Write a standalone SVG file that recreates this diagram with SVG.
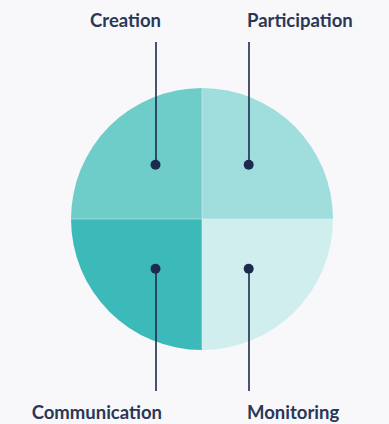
<svg xmlns="http://www.w3.org/2000/svg" width="389" height="424" viewBox="0 0 389 424">
<style>
.lbl{font-family:"Lato","Liberation Sans",sans-serif;font-weight:700;font-size:18.5px;fill:#2a3756}
.ln{stroke:#1c2b4d;stroke-width:1.6;fill:none}
.dot{fill:#1c2b4d}
.sep{stroke:#e6f6f5;stroke-width:0.8;stroke-opacity:0.6}
</style>
<rect width="389" height="424" fill="#f8f8fb"/>
<g id="creation">
<path d="M202 219 L71 219 A131 131 0 0 1 202 88 Z" fill="#6ecdc9"/>
<text class="lbl" x="161" y="27" text-anchor="end">Creation</text>
</g>
<g id="participation">
<path d="M202 219 L202 88 A131 131 0 0 1 333 219 Z" fill="#a0dede"/>
<text class="lbl" x="247" y="27">Participation</text>
</g>
<g id="communication">
<path d="M202 219 L202 350 A131 131 0 0 1 71 219 Z" fill="#3cbab9"/>
<text class="lbl" x="162" y="419" text-anchor="end">Communication</text>
</g>
<g id="monitoring">
<path d="M202 219 L333 219 A131 131 0 0 1 202 350 Z" fill="#cfeeed"/>
<text class="lbl" x="247" y="419">Monitoring</text>
</g>
<g id="separators">
<line class="sep" x1="202" y1="88" x2="202" y2="350"/>
<line class="sep" x1="71" y1="219" x2="333" y2="219"/>
</g>
<g id="connectors">
<line class="ln" x1="156" y1="42" x2="156" y2="165"/>
<line class="ln" x1="249" y1="42" x2="249" y2="165"/>
<line class="ln" x1="156" y1="269" x2="156" y2="391"/>
<line class="ln" x1="249" y1="269" x2="249" y2="391"/>
<circle class="dot" cx="155.5" cy="164.7" r="5"/>
<circle class="dot" cx="248.7" cy="164.7" r="5"/>
<circle class="dot" cx="155.5" cy="268.7" r="5"/>
<circle class="dot" cx="248.7" cy="268.7" r="5"/>
</g>
</svg>
